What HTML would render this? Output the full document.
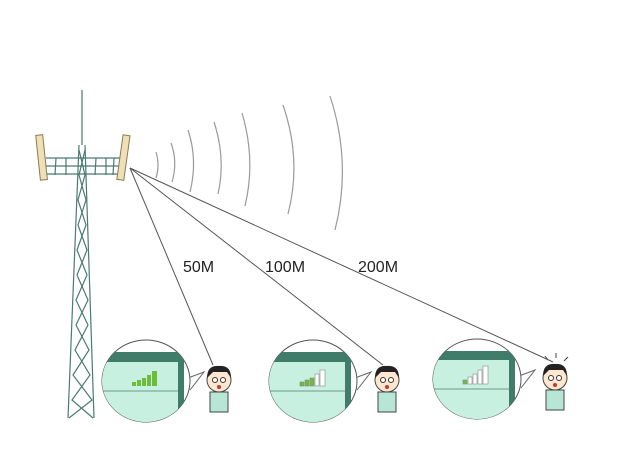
<!DOCTYPE html>
<html><head><meta charset="utf-8"><style>html,body{margin:0;padding:0;background:#fff}svg{display:block}</style></head><body>
<svg width="640" height="450" viewBox="0 0 640 450" xmlns="http://www.w3.org/2000/svg">
<rect width="640" height="450" fill="#fff"/>
<g stroke="#4a7a70" stroke-width="1.2" fill="none">
<line x1="82" y1="90" x2="82" y2="145"/>
<line x1="79" y1="145" x2="68" y2="418"/>
<line x1="85" y1="145" x2="94" y2="418"/>
<path d="M79,150 L85,175 L78,200 L86,225 L77,250 L87,275 L76,300 L88,325 L75,350 L90,375 L72,400 L93,418"/>
<path d="M85,150 L79,175 L86,200 L78,225 L87,250 L77,275 L88,300 L76,325 L89,350 L73,375 L92,400 L69,418"/>
<path d="M46,158 L120,158 M46,166 L120,166 M46,174 L120,174"/>
<path d="M56,158 L55,175 M66,158 L66,175 M96,158 L95,175 M106,158 L106,175 M114,158 L113,175"/>
</g>
<rect x="38" y="135" width="7" height="45" fill="#f0e0b8" stroke="#8a7a50" transform="rotate(-6 41 157)"/>
<rect x="120" y="135" width="7" height="45" fill="#f0e0b8" stroke="#8a7a50" transform="rotate(8 123 157)"/>
<g stroke="#999" stroke-width="1.2" fill="none">
<path d="M156,152 Q160,165 156,178"/>
<path d="M171,143 Q178,162 172,182"/>
<path d="M188,130 Q198,160 190,192"/>
<path d="M214,122 Q226,158 218,194"/>
<path d="M242,113 Q256,160 245,206"/>
<path d="M283,105 Q302,160 288,214"/>
<path d="M330,96 Q352,163 335,230"/>
</g>
<g stroke="#555" stroke-width="1" fill="none">
<line x1="130" y1="168" x2="213" y2="365"/>
<line x1="130" y1="168" x2="383" y2="365"/>
<line x1="130" y1="168" x2="553" y2="362"/>
</g>
<g font-family="Liberation Sans, sans-serif" font-size="16" fill="#222">
<text x="183" y="272">50M</text><text x="265" y="272">100M</text><text x="358" y="272">200M</text>
</g>
<defs><clipPath id="c1"><ellipse cx="146" cy="381" rx="44" ry="41"/></clipPath>
<clipPath id="c2"><ellipse cx="313" cy="381" rx="44" ry="41"/></clipPath>
<clipPath id="c3"><ellipse cx="477" cy="379" rx="44" ry="40"/></clipPath></defs>
<g id="b1">
<path d="M188,378 L204,372 L190,390" fill="#fff" stroke="#666"/>
<ellipse cx="146" cy="381" rx="44" ry="41" fill="#fff" stroke="#555"/>
<g clip-path="url(#c1)">
<rect x="100" y="352" width="84" height="80" fill="#3f7d6a"/>
<rect x="100" y="362" width="78" height="70" fill="#c8f0e0"/>
<line x1="100" y1="391" x2="178" y2="391" stroke="#6a9a8a"/>
</g>
<g fill="#6cbe3a"><rect x="132" y="382" width="4" height="4"/><rect x="137" y="380" width="4" height="6"/><rect x="142" y="378" width="4" height="8"/><rect x="147" y="375" width="4" height="11"/><rect x="152" y="371" width="5" height="15"/></g>
</g>
<g id="b2">
<path d="M355,378 L371,372 L357,390" fill="#fff" stroke="#666"/>
<ellipse cx="313" cy="381" rx="44" ry="41" fill="#fff" stroke="#555"/>
<g clip-path="url(#c2)">
<rect x="267" y="352" width="84" height="80" fill="#3f7d6a"/>
<rect x="267" y="362" width="78" height="70" fill="#c8f0e0"/>
<line x1="267" y1="391" x2="345" y2="391" stroke="#6a9a8a"/>
</g>
<g stroke="#888" stroke-width="0.6"><rect x="300" y="382" width="4" height="4" fill="#6cbe3a"/><rect x="305" y="380" width="4" height="6" fill="#6cbe3a"/><rect x="310" y="378" width="4" height="8" fill="#6cbe3a"/><rect x="315" y="374" width="4" height="12" fill="#fff"/><rect x="320" y="370" width="5" height="16" fill="#fff"/></g>
</g>
<g id="b3">
<path d="M519,376 L535,370 L521,388" fill="#fff" stroke="#666"/>
<ellipse cx="477" cy="379" rx="44" ry="40" fill="#fff" stroke="#555"/>
<g clip-path="url(#c3)">
<rect x="431" y="351" width="84" height="80" fill="#3f7d6a"/>
<rect x="431" y="360" width="78" height="70" fill="#c8f0e0"/>
<line x1="431" y1="389" x2="509" y2="389" stroke="#6a9a8a"/>
</g>
<g stroke="#888" stroke-width="0.6"><rect x="463" y="380" width="4" height="4" fill="#6cbe3a"/><rect x="468" y="377" width="4" height="7" fill="#fff"/><rect x="473" y="374" width="4" height="10" fill="#fff"/><rect x="478" y="370" width="4" height="14" fill="#fff"/><rect x="483" y="366" width="5" height="18" fill="#fff"/></g>
</g>
<g id="p1" transform="translate(219,380)">
<rect x="-9" y="12" width="18" height="20" fill="#b8e6d6" stroke="#444"/>
<circle cx="0" cy="0" r="12" fill="#fde7cf" stroke="#444"/>
<path d="M-12,-2 Q-12,-15 0,-14 Q12,-15 12,-2 L8,-8 L-6,-8 Z" fill="#222"/>
<circle cx="-4" cy="0" r="2.5" fill="#fff" stroke="#333"/><circle cx="4" cy="0" r="2.5" fill="#fff" stroke="#333"/>
<ellipse cx="0" cy="7" rx="2" ry="2" fill="#c33"/>
</g>
<use href="#p1" transform="translate(168,0)"/>
<use href="#p1" transform="translate(336,-2)"/>
<g stroke="#444"><line x1="548" y1="360" x2="545" y2="356"/><line x1="556" y1="358" x2="556" y2="353"/><line x1="564" y1="361" x2="568" y2="357"/></g>
</svg>
</body></html>
